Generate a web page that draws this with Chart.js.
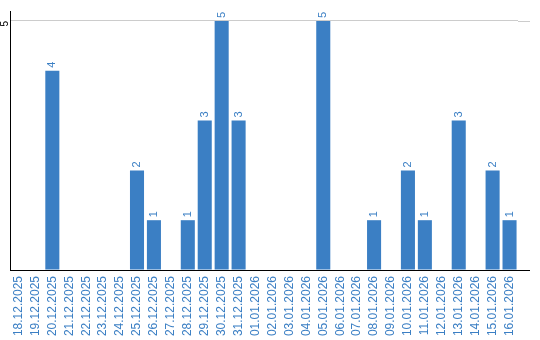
<!DOCTYPE html>
<html>
<head>
<meta charset="utf-8">
<script src="https://cdn.jsdelivr.net/npm/chart.js@4"></script>
<style>
  html, body { margin: 0; padding: 0; background: #fff; }
  #wrap { width: 540px; height: 340px; }
</style>
</head>
<body>
<div id="wrap"><canvas id="dailyChart"></canvas></div>
<script>
const days = ['18.12.2025', '19.12.2025', '20.12.2025', '21.12.2025', '22.12.2025', '23.12.2025',
  '24.12.2025', '25.12.2025', '26.12.2025', '27.12.2025', '28.12.2025', '29.12.2025',
  '30.12.2025', '31.12.2025', '01.01.2026', '02.01.2026', '03.01.2026', '04.01.2026',
  '05.01.2026', '06.01.2026', '07.01.2026', '08.01.2026', '09.01.2026', '10.01.2026',
  '11.01.2026', '12.01.2026', '13.01.2026', '14.01.2026', '15.01.2026', '16.01.2026'];
const counts = [0, 0, 4, 0, 0, 0, 0, 2, 1, 0, 1, 3, 5, 3, 0, 0, 0, 0, 5, 0, 0, 1, 0, 2, 1, 0, 3, 0, 2, 1];
const yTicks = [5];

const blue = '#3b7fc4';

// value labels on top of bars, rotated like the axis text
const barLabels = {
  id: 'barLabels',
  afterDatasetsDraw(chart) {
    const c = chart.ctx;
    const meta = chart.getDatasetMeta(0);
    c.save();
    c.fillStyle = blue;
    c.font = '11px "Liberation Sans", Arial, sans-serif';
    c.textAlign = 'left';
    c.textBaseline = 'middle';
    meta.data.forEach((bar, i) => {
      if (!counts[i]) return;
      c.save();
      c.translate(bar.x, bar.y - 3);
      c.rotate(-Math.PI / 2);
      c.fillText(String(counts[i]), 0, 0);
      c.restore();
    });
    c.restore();
  }
};

// grid line and axis run a bit past the last bar
const extendLines = {
  id: 'extendLines',
  afterDraw(chart) {
    const c = chart.ctx;
    const a = chart.chartArea;
    const y = chart.scales.y;
    c.save();
    c.lineWidth = 1;
    c.strokeStyle = '#cccccc';
    c.beginPath();
    const g = Math.round(y.getPixelForValue(5)) + 0.5;
    c.moveTo(a.right, g); c.lineTo(530, g);
    c.stroke();
    c.strokeStyle = '#000';
    c.beginPath();
    const b = Math.round(y.getPixelForValue(0)) + 0.5;
    c.moveTo(a.right - 1, b); c.lineTo(530, b);
    c.stroke();
    c.restore();
  }
};

new Chart(document.getElementById('dailyChart'), {
  type: 'bar',
  data: {
    labels: days,
    datasets: [{
      data: counts,
      backgroundColor: blue,
      borderWidth: 0,
      barPercentage: 0.83,
      categoryPercentage: 1
    }]
  },
  options: {
    responsive: true,
    maintainAspectRatio: false,
    animation: false,
    layout: { padding: { top: 10, right: 22, bottom: 0, left: 0 } },
    plugins: { legend: { display: false }, tooltip: { enabled: false } },
    scales: {
      x: {
        afterFit: s => { s.height = 70; },
        grid: { display: false, drawTicks: false },
        border: { color: '#000', width: 1 },
        ticks: {
          color: blue,
          font: { family: '"Liberation Sans", Arial, sans-serif', size: 12 },
          minRotation: 90,
          maxRotation: 90,
          autoSkip: false,
          padding: 6
        }
      },
      y: {
        min: 0,
        max: 5.2,
        afterBuildTicks: s => { s.ticks = [0].concat(yTicks).map(v => ({ value: v })); },
        afterFit: s => { s.width = 10; },
        grid: {
          drawTicks: false,
          color: ctx => (ctx.tick && yTicks.includes(ctx.tick.value)) ? '#cccccc' : 'rgba(0,0,0,0)'
        },
        border: { color: '#000', width: 1 },
        ticks: {
          color: '#000',
          font: { family: '"Liberation Sans", Arial, sans-serif', size: 10 },
          minRotation: 90,
          maxRotation: 90,
          padding: 5,
          callback: v => yTicks.includes(v) ? String(v) : ''
        }
      }
    }
  },
  plugins: [barLabels, extendLines]
});
</script>
</body>
</html>
